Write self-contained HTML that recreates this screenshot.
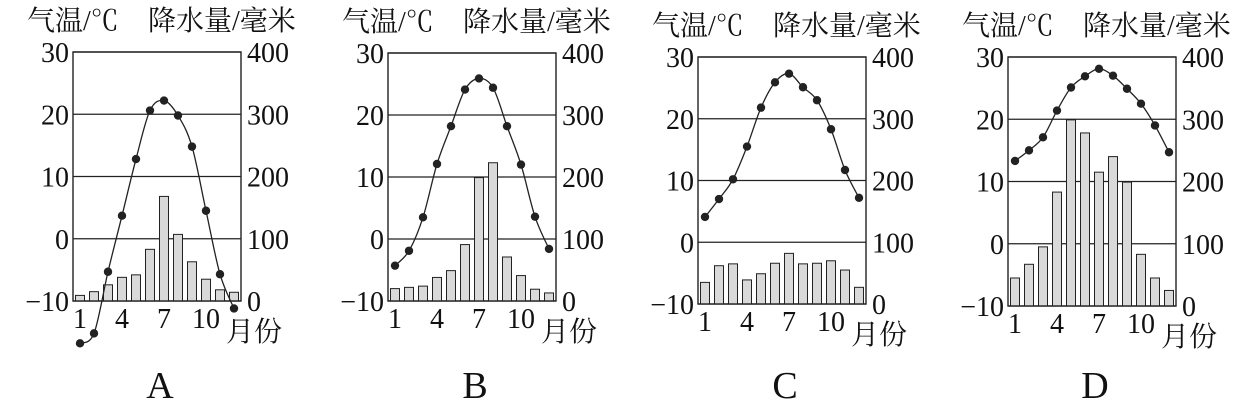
<!DOCTYPE html>
<html><head><meta charset="utf-8"><style>
html,body{margin:0;padding:0;background:#fff;}
svg{display:block;}
text{fill:#111;}
.num{font-family:"Liberation Serif",serif;font-size:28px;}
.cjk{font-family:"Liberation Serif","Noto Serif CJK SC","Noto Sans CJK SC",serif;font-size:28px;}
</style></head><body>
<svg id="chart" width="1256" height="410" viewBox="0 0 1256 410" xmlns="http://www.w3.org/2000/svg"></svg>
<script>
const months = [1,2,3,4,5,6,7,8,9,10,11,12];
const monthTicks = [1,4,7,10];
const tempTicks = [30,20,10,0,-10];
const precipTicks = [400,300,200,100,0];
const panelLabels = ["A","B","C","D"];
const tempA = [-16.8,-15.2,-5.3,3.7,12.8,20.6,22.2,19.8,14.8,4.5,-5.7,-11.2];
const tempB = [-4.3,-1.9,3.5,12.1,18.2,24.1,25.9,24.4,18.2,12.0,3.6,-1.6];
const tempC = [4.1,7.0,10.2,15.5,21.8,25.9,27.3,25.1,23.0,18.3,11.7,7.2];
const tempD = [13.3,15.0,17.1,21.4,25.1,26.9,28.1,27.0,24.9,22.5,19.0,14.7];
const precipA = [9,15,26,38,42,83,168,107,63,35,18,14];
const precipB = [20,22,24,38,49,91,199,223,71,41,19,13];
const precipC = [35,62,65,39,49,66,82,65,66,70,55,27];
const precipD = [45,67,95,183,299,278,215,240,199,83,45,25];
const temps = [tempA,tempB,tempC,tempD];
const precips = [precipA,precipB,precipC,precipD];

const boxes = [{L:73,T:52,B:301},{L:388,T:53,B:301},{L:698,T:57,B:304},{L:1008,T:57,B:306}];
const W = 168;
const NS = "http://www.w3.org/2000/svg";
const svg = document.getElementById('chart');
function mk(tag, attrs, parent){
  const e = document.createElementNS(NS, tag);
  for (const k in attrs) e.setAttribute(k, attrs[k]);
  (parent||svg).appendChild(e);
  return e;
}
function txt(s, x, y, cls, anchor, parent){
  const t = mk('text', {x:x, y:y, class:cls, 'text-anchor':anchor||'start'}, parent);
  t.textContent = s;
  return t;
}
for (let p = 0; p < 4; p++) {
  const {L,T,B} = boxes[p];
  const H = B - T;
  const g = mk('g', {});
  
  
  const yT = v => B - (v + 10) / 40 * H;
  const yP = v => B - v / 400 * H;
  const xM = m => L + (m - 0.5) * W / 12;
  for (const t of tempTicks) {
    const gl = mk('line', {x1:L, x2:L+W, y1:yT(t), y2:yT(t), stroke:'#222', 'stroke-width':1.2}, g);
    
    
  }
  precips[p].forEach((v, i) => {
    const r = mk('rect', {x:xM(months[i]) - 4.5, y:yP(v), width:9, height:B - yP(v), fill:'#d9d9d9', stroke:'#222', 'stroke-width':1}, g);
    
    
  });
  const fr = mk('rect', {x:L, y:T, width:W, height:H, fill:'none', stroke:'#222', 'stroke-width':1.4}, g);
  
  
  const pts = temps[p].map((v, i) => [xM(months[i]), yT(v)]);
  let d = 'M' + pts[0][0] + ',' + pts[0][1];
  for (let i = 0; i < pts.length - 1; i++) {
    const p0 = pts[i-1] || pts[i], p1 = pts[i], p2 = pts[i+1], p3 = pts[i+2] || pts[i+1];
    const c1 = [p1[0] + (p2[0]-p0[0])/6, p1[1] + (p2[1]-p0[1])/6];
    const c2 = [p2[0] - (p3[0]-p1[0])/6, p2[1] - (p3[1]-p1[1])/6];
    d += ' C' + c1 + ' ' + c2 + ' ' + p2;
  }
  const ln = mk('path', {d:d, fill:'none', stroke:'#222', 'stroke-width':1.3}, g);
  
  
  pts.forEach(pt => {
    const c = mk('circle', {cx:pt[0], cy:pt[1], r:4.2, fill:'#222'}, g);
    
    
  });
  tempTicks.forEach(t => {
    const e = txt(String(t).replace('-', '\u2212'), L - 4, yT(t) + 10, 'num', 'end', g);
    
    
  });
  precipTicks.forEach(t => {
    const e = txt(String(t), L + W + 6, yP(t) + 10, 'num', 'start', g);
    
    
  });
  monthTicks.forEach(m => {
    const e = txt(String(m), xM(m), B + 27, 'num', 'middle', g);
    
    
  });
  const mo = txt('月份', L + 153, B + 40, 'cjk', 'start', g);
  
  
  const t1 = txt('气温/℃', L - 46, T - 22, 'cjk', 'start', g);
  
  
  const t2 = txt('降水量/毫米', L + 75, T - 22, 'cjk', 'start', g);
  
  
  const pl = txt(panelLabels[p], L + 87, 398, 'num', 'middle', g);
  pl.setAttribute('style', 'font-size:38px');
  
  
}
</script>
</body></html>
